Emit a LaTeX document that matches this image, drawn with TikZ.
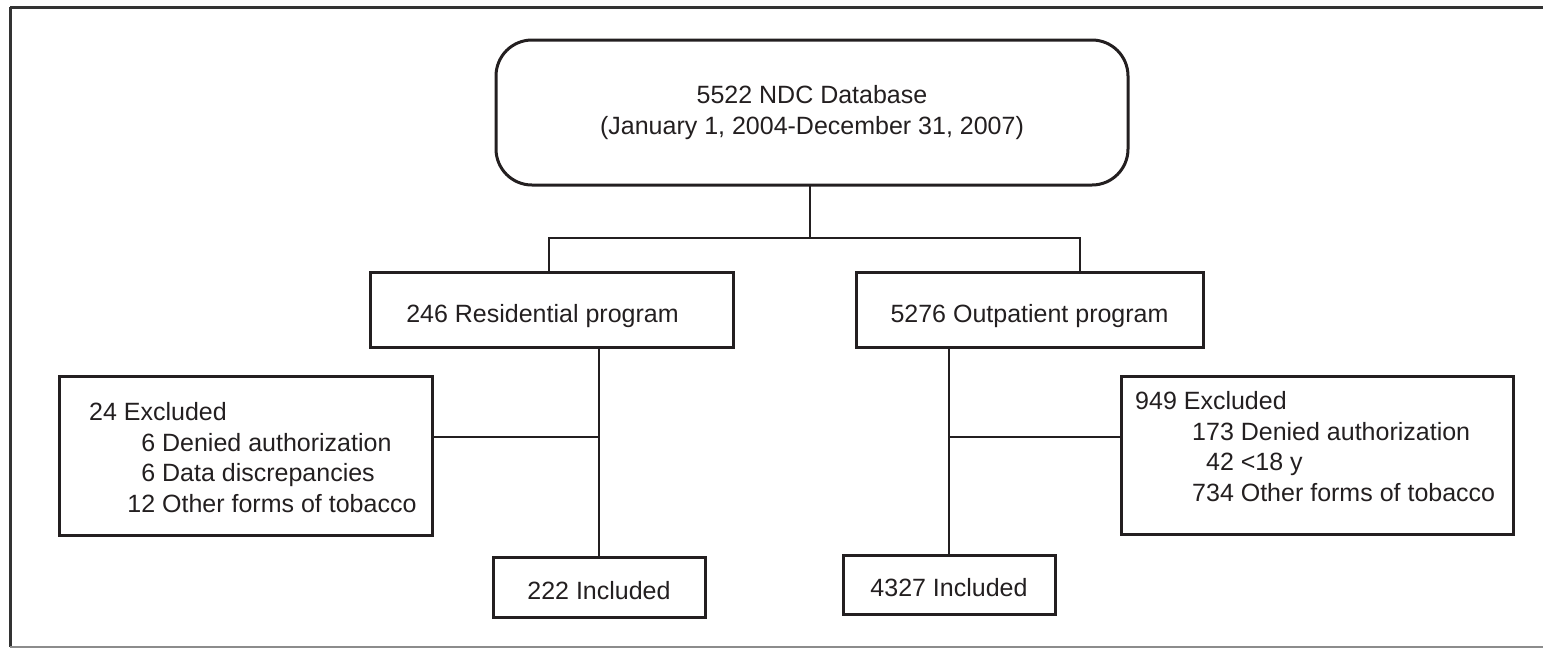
\documentclass[tikz,border=0pt]{standalone}
\usepackage{fontspec}
\setmainfont{Liberation Sans}
\definecolor{ink}{HTML}{231F20}
\newcommand{\lowered}[2]{\raisebox{-#1}[0pt][0pt]{#2}}
\begin{document}
\begin{tikzpicture}[x=1pt,y=-1pt,
  every node/.style={text=ink, font=\fontsize{25}{31}\selectfont},
  box/.style={draw=ink, line width=3pt, rectangle, inner sep=0pt, outer sep=0pt},
  conn/.style={draw=ink, line width=2.6pt},
  txt/.style={anchor=base west, inner sep=0pt}]
\useasboundingbox (0,0) rectangle (1543,649);
% outer frame
\draw[line width=3pt, color=black!80] (10,7) -- (1560,7);
\draw[line width=3pt, color=black!80] (10,7) -- (10,647);
\draw[line width=2pt, color=black!45] (10,647) -- (1560,647);
% boxes
\node[box, rounded corners=36pt, minimum width=632pt, minimum height=145pt, align=center] (db) at (812,112.5)
  {5522 NDC Database\\(January 1, 2004-December 31, 2007)};
\node[box, minimum width=363pt, minimum height=75pt] (res) at (551.5,309.5) {\lowered{12.5pt}{246 Residential program}\hspace*{18pt}};
\node[box, minimum width=347pt, minimum height=75pt] (out) at (1029.5,309.5) {\lowered{12.5pt}{5276 Outpatient program}};
\node[box, minimum width=373pt, minimum height=159pt] (exc1) at (245.5,455.5) {};
\node[box, minimum width=392pt, minimum height=158pt] (exc2) at (1317,455) {};
\node[box, minimum width=212pt, minimum height=60pt] (inc1) at (599,587) {\lowered{12pt}{222 Included}};
\node[box, minimum width=212pt, minimum height=59pt] (inc2) at (949,584.5) {\lowered{11.5pt}{4327 Included}};
% excluded texts
\node[txt] (e1a) at (89,420) {24 Excluded};
\node[txt] (e1b) at (127.2,451) {\phantom{1}6 Denied authorization};
\node[txt] (e1c) at (127.2,481) {\phantom{1}6 Data discrepancies};
\node[txt] (e1d) at (127.2,512) {12 Other forms of tobacco};
\node[txt] (e2a) at (1135,409) {949 Excluded};
\node[txt] (e2b) at (1192,440) {173 Denied authorization};
\node[txt] (e2c) at (1192,470) {\phantom{7}42 <18 y};
\node[txt] (e2d) at (1192,501) {734 Other forms of tobacco};
% connectors
\coordinate (fork) at (810,238);
\draw[conn] (db.south -| fork) -- (fork);
\draw[conn] ([xshift=-2.5pt]res.north) |- (fork) -| ([xshift=50.5pt]out.north);
\draw[conn] (inc1.north |- res.south) -- (inc1.north);
\draw[conn] ([yshift=18.5pt]exc1.east) -- ([yshift=18.5pt]exc1.east -| inc1.north);
\draw[conn] (inc2.north |- out.south) -- (inc2.north);
\draw[conn] ([yshift=18pt]exc2.west) -- ([yshift=18pt]exc2.west -| inc2.north);
\end{tikzpicture}
\end{document}
